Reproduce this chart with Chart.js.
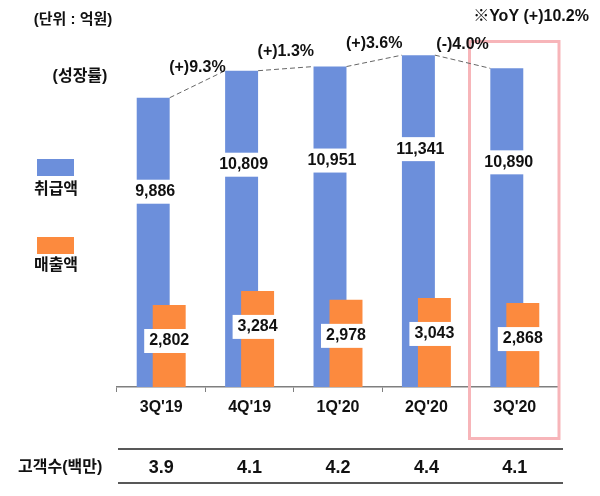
<!DOCTYPE html>
<html>
<head>
<meta charset="utf-8">
<script src="https://cdn.jsdelivr.net/npm/chart.js@4.4.0/dist/chart.umd.min.js"></script>
<style>
  body { margin: 0; background: #fff; }
</style>
</head>
<body>
<canvas id="quarterChart" width="600" height="496"></canvas>
<script>
// data (억원)
var quarters = ["3Q'19", "4Q'19", "1Q'20", "2Q'20", "3Q'20"];
var handled = [9886, 10809, 10951, 11341, 10890];   // 취급액
var sales = [2802, 3284, 2978, 3043, 2868];         // 매출액
var growth = ["(+)9.3%", "(+)1.3%", "(+)3.6%", "(-)4.0%"];
var customers = ["3.9", "4.1", "4.2", "4.4", "4.1"]; // 고객수(백만)

var BLUE = "#6c8fdb";
var ORANGE = "#fc8a3e";
var PINK = "#f7b5b9";
var INK = "#111111";
var FONT = "'Liberation Sans', Arial, 'Noto Sans CJK KR', sans-serif";

function text(ctx, str, x, y, size, align) {
  ctx.font = "bold " + size + "px " + FONT;
  ctx.fillStyle = INK;
  ctx.textAlign = align || "center";
  ctx.textBaseline = "middle";
  ctx.fillText(str, x, y);
}

function boxedLabel(ctx, str, x, y, minW) {
  ctx.font = "bold 16px " + FONT;
  var w = Math.max(minW, ctx.measureText(str).width + 8);
  ctx.fillStyle = "#fff";
  ctx.fillRect(x - w / 2, y - 12, w, 24);
  text(ctx, str, x, y, 16);
}

// orange bars sit on top of the blue ones
var blueUnder = {
  id: "blueUnder",
  beforeDatasetDraw: function (chart, args) {
    if (args.index === 0) return false;
    if (args.index === 1) chart.getDatasetMeta(0).controller.draw();
  }
};

var decorations = {
  id: "decorations",
  afterDatasetsDraw: function (chart) {
    var ctx = chart.ctx;
    var blue = chart.getDatasetMeta(0).data;
    var orange = chart.getDatasetMeta(1).data;
    var x = chart.scales.x;

    // highlight box round the latest quarter
    ctx.strokeStyle = PINK;
    ctx.lineWidth = 3;
    ctx.strokeRect(469.5, 41.5, 89.5, 397);

    // growth connectors
    ctx.save();
    ctx.strokeStyle = "#666";
    ctx.lineWidth = 1;
    ctx.setLineDash([5, 3]);
    for (var i = 0; i < growth.length; i++) {
      var a = blue[i], b = blue[i + 1];
      var x1 = a.x + a.width / 2, x2 = b.x - b.width / 2;
      ctx.beginPath();
      ctx.moveTo(x1, a.y);
      ctx.lineTo(x2, b.y);
      ctx.stroke();
      text(ctx, growth[i], (x1 + x2) / 2, (a.y + b.y) / 2 - 17, 16);
    }
    ctx.restore();

    // value labels
    blue.forEach(function (bar, i) {
      boxedLabel(ctx, handled[i].toLocaleString("en-US"), bar.x + 2, bar.y + 94, 40);
    });
    orange.forEach(function (bar, i) {
      boxedLabel(ctx, sales[i].toLocaleString("en-US"), bar.x, bar.y + 36, 50);
    });

    // side notes and legend
    text(ctx, "(단위 : 억원)", 73, 20, 15);
    text(ctx, "(성장률)", 80, 77, 16);
    text(ctx, "※YoY (+)10.2%", 531, 17, 16);
    ctx.fillStyle = BLUE;
    ctx.fillRect(37, 159, 37, 17);
    text(ctx, "취급액", 56, 190, 16);
    ctx.fillStyle = ORANGE;
    ctx.fillRect(37, 237, 37, 17);
    text(ctx, "매출액", 56, 266, 16);

    // customers row
    ctx.strokeStyle = "#222";
    ctx.lineWidth = 1.5;
    ctx.beginPath();
    ctx.moveTo(118, 449); ctx.lineTo(563, 449);
    ctx.moveTo(118, 483); ctx.lineTo(563, 483);
    ctx.stroke();
    text(ctx, "고객수(백만)", 18, 468, 16, "left");
    customers.forEach(function (v, i) {
      text(ctx, v, x.getPixelForValue(i), 468, 18);
    });
  }
};

var quarterChart = new Chart(document.getElementById("quarterChart"), {
  type: "bar",
  data: {
    labels: quarters,
    datasets: [
      { label: "취급액", data: handled, backgroundColor: BLUE },
      { label: "매출액", data: sales, backgroundColor: ORANGE }
    ]
  },
  options: {
    responsive: false,
    animation: false,
    devicePixelRatio: 1,
    categoryPercentage: 0.362,
    barPercentage: 2.06,
    layout: { padding: { left: 117, right: 41, top: 30, bottom: 0 } },
    scales: {
      x: {
        afterFit: function (scale) { scale.height = 109; },
        grid: { offset: true, drawOnChartArea: false, tickLength: 5, color: "#7f7f7f", lineWidth: 1 },
        border: { color: "#7f7f7f", width: 1.5 },
        ticks: { color: INK, padding: 6, font: { family: FONT, size: 16, weight: "bold" } }
      },
      y: { display: false, min: 0, max: 12200 }
    },
    plugins: {
      legend: { display: false },
      tooltip: { enabled: false }
    }
  },
  plugins: [blueUnder, decorations]
});
</script>
</body>
</html>
